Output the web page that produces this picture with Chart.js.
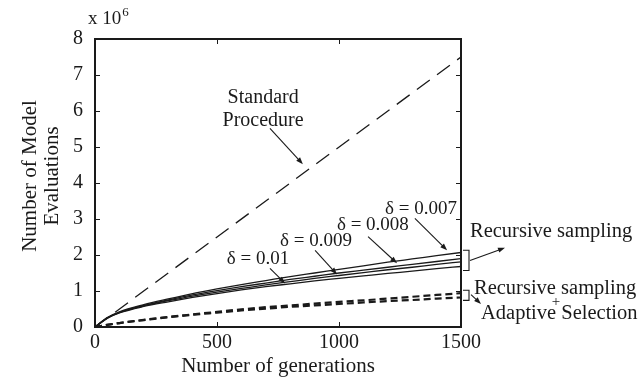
<!DOCTYPE html>
<html>
<head>
<meta charset="utf-8">
<script src="https://cdn.jsdelivr.net/npm/chart.js@4.4.1/dist/chart.umd.min.js"></script>
<style>
  html, body { margin: 0; padding: 0; background: #fff; }
  #wrap { width: 639px; height: 383px; }
</style>
</head>
<body>
<div id="wrap"><canvas id="evals"></canvas></div>
<script>
// generations at which the curves are sampled
const generations = [0, 50, 100, 200, 300, 400, 500, 600, 700, 800, 900, 1000, 1100, 1200, 1300, 1400, 1500];

// model evaluations, in units of 10^6
const standardGens = [0, 1500];
const standardEvals = [0, 7.5];
const recursive007 = [0, 0.26, 0.42, 0.62, 0.78, 0.93, 1.06, 1.18, 1.29, 1.40, 1.50, 1.60, 1.70, 1.80, 1.89, 1.98, 2.07];
const recursive008 = [0, 0.25, 0.41, 0.60, 0.75, 0.89, 1.01, 1.12, 1.22, 1.32, 1.41, 1.50, 1.58, 1.66, 1.74, 1.82, 1.90];
const recursive009 = [0, 0.25, 0.40, 0.59, 0.73, 0.86, 0.97, 1.07, 1.17, 1.26, 1.35, 1.43, 1.51, 1.59, 1.66, 1.74, 1.81];
const recursive010 = [0, 0.24, 0.39, 0.57, 0.70, 0.82, 0.93, 1.03, 1.12, 1.20, 1.28, 1.35, 1.42, 1.49, 1.55, 1.62, 1.68];
const adaptiveHigh = [0, 0.06, 0.11, 0.20, 0.28, 0.35, 0.42, 0.49, 0.55, 0.60, 0.65, 0.70, 0.74, 0.79, 0.84, 0.89, 0.94];
const adaptiveLow = [0, 0.06, 0.11, 0.19, 0.27, 0.34, 0.40, 0.46, 0.51, 0.56, 0.60, 0.64, 0.68, 0.72, 0.75, 0.79, 0.82];

const xTicks = [0, 500, 1000, 1500];
const yTicks = [0, 1, 2, 3, 4, 5, 6, 7, 8];

const INK = '#1a1a1a';
const SERIF = '"Liberation Serif", "DejaVu Serif", serif';

function points(xs, ys) {
    return xs.map((x, i) => ({ x: x, y: ys[i] }));
}

function solid(label, ys) {
    return {
        label: label,
        data: points(generations, ys),
        borderColor: INK,
        borderWidth: 1.3,
        pointRadius: 0,
        cubicInterpolationMode: 'monotone',
        fill: false
    };
}

function dashedThick(label, ys) {
    return {
        label: label,
        data: points(generations, ys),
        borderColor: INK,
        borderWidth: 2.2,
        borderDash: [7, 4],
        pointRadius: 0,
        cubicInterpolationMode: 'monotone',
        fill: false
    };
}

// labels with leader arrows, positions in data units (x: generations, y: 10^6 evals)
const curveNotes = [
    { text: 'δ = 0.01', tx: 668, ty: 1.88, from: [717, 1.63], to: [779, 1.21] },
    { text: 'δ = 0.009', tx: 906, ty: 2.40, from: [902, 2.13], to: [992, 1.46] },
    { text: 'δ = 0.008', tx: 1139, ty: 2.82, from: [1119, 2.51], to: [1238, 1.77] },
    { text: 'δ = 0.007', tx: 1336, ty: 3.29, from: [1311, 3.02], to: [1443, 2.13] }
];

function arrow(ctx, x1, y1, x2, y2) {
    const a = Math.atan2(y2 - y1, x2 - x1);
    const len = 7, w = 2.6;
    ctx.beginPath();
    ctx.moveTo(x1, y1);
    ctx.lineTo(x2 - Math.cos(a) * len * 0.8, y2 - Math.sin(a) * len * 0.8);
    ctx.stroke();
    ctx.beginPath();
    ctx.moveTo(x2, y2);
    ctx.lineTo(x2 - Math.cos(a) * len - Math.sin(a) * w, y2 - Math.sin(a) * len + Math.cos(a) * w);
    ctx.lineTo(x2 - Math.cos(a) * len + Math.sin(a) * w, y2 - Math.sin(a) * len - Math.cos(a) * w);
    ctx.closePath();
    ctx.fill();
}

const framePlugin = {
    id: 'frame',
    afterDraw(chart) {
        const ctx = chart.ctx;
        const area = chart.chartArea;
        const xs = chart.scales.x, ys = chart.scales.y;
        const px = v => xs.getPixelForValue(v);
        const py = v => ys.getPixelForValue(v);

        ctx.save();
        ctx.strokeStyle = INK;
        ctx.fillStyle = INK;

        // box
        ctx.lineWidth = 2;
        ctx.strokeRect(area.left, area.top, area.right - area.left, area.bottom - area.top);

        // inward ticks on all four sides
        ctx.lineWidth = 1;
        const tl = 5;
        ctx.beginPath();
        xTicks.forEach(t => {
            const x = Math.round(px(t)) + 0.5;
            ctx.moveTo(x, area.bottom); ctx.lineTo(x, area.bottom - tl);
            ctx.moveTo(x, area.top); ctx.lineTo(x, area.top + tl);
        });
        yTicks.forEach(t => {
            const y = Math.round(py(t)) + 0.5;
            ctx.moveTo(area.left, y); ctx.lineTo(area.left + tl, y);
            ctx.moveTo(area.right, y); ctx.lineTo(area.right - tl, y);
        });
        ctx.stroke();

        // exponent
        ctx.textBaseline = 'alphabetic';
        ctx.textAlign = 'left';
        ctx.font = '19px ' + SERIF;
        ctx.fillText('x 10', 88, 24);
        const w = ctx.measureText('x 10').width;
        ctx.font = '13px ' + SERIF;
        ctx.fillText('6', 88 + w + 1, 16);

        // axis titles
        ctx.font = '21px ' + SERIF;
        ctx.textAlign = 'center';
        ctx.textBaseline = 'middle';
        ctx.fillText('Number of generations', (area.left + area.right) / 2, 366);
        ctx.save();
        ctx.translate(30, 176);
        ctx.rotate(-Math.PI / 2);
        ctx.fillText('Number of Model', 0, 0);
        ctx.fillText('Evaluations', 0, 22);
        ctx.restore();

        // annotations
        ctx.lineWidth = 1.1;
        ctx.font = '20px ' + SERIF;
        ctx.fillText('Standard', px(689), py(6.38));
        ctx.fillText('Procedure', px(689), py(5.74));
        arrow(ctx, px(717), py(5.52), px(852), py(4.52));

        ctx.font = '19px ' + SERIF;
        curveNotes.forEach(n => {
            ctx.fillText(n.text, px(n.tx), py(n.ty));
            arrow(ctx, px(n.from[0]), py(n.from[1]), px(n.to[0]), py(n.to[1]));
        });

        // brackets grouping the curve families at the right edge
        function bracket(top, bottom) {
            const x0 = area.right + 2, x1 = area.right + 8;
            ctx.beginPath();
            ctx.moveTo(x0, py(top)); ctx.lineTo(x1, py(top));
            ctx.lineTo(x1, py(bottom)); ctx.lineTo(x0, py(bottom));
            ctx.stroke();
        }
        bracket(2.13, 1.57);
        arrow(ctx, area.right + 9, py(1.85), area.right + 44, py(2.2));
        bracket(1.02, 0.74);
        arrow(ctx, area.right + 10, py(0.9), area.right + 20, py(0.64));

        ctx.font = '20.5px ' + SERIF;
        ctx.textAlign = 'left';
        ctx.fillText('Recursive sampling', area.right + 9, py(2.65));
        ctx.fillText('Recursive sampling', area.right + 13, py(1.07));
        ctx.fillText('Adaptive Selection', area.right + 20, py(0.38));
        ctx.textAlign = 'center';
        ctx.font = '15px ' + SERIF;
        ctx.fillText('+', area.right + 95, py(0.68));
        ctx.restore();
    }
};

new Chart(document.getElementById('evals'), {
    type: 'line',
    data: {
        datasets: [
            {
                label: 'Standard Procedure',
                data: points(standardGens, standardEvals),
                borderColor: INK,
                borderWidth: 1.3,
                borderDash: [16, 9],
                pointRadius: 0,
                fill: false
            },
            solid('δ = 0.007', recursive007),
            solid('δ = 0.008', recursive008),
            solid('δ = 0.009', recursive009),
            solid('δ = 0.01', recursive010),
            dashedThick('Adaptive 1', adaptiveHigh),
            dashedThick('Adaptive 2', adaptiveLow)
        ]
    },
    options: {
        responsive: true,
        maintainAspectRatio: false,
        animation: false,
        layout: { padding: { left: 0, top: 39, right: 178, bottom: 0 } },
        plugins: {
            legend: { display: false },
            tooltip: { enabled: false }
        },
        scales: {
            x: {
                type: 'linear',
                min: 0,
                max: 1500,
                grid: { display: false, drawTicks: false, tickLength: 0 },
                border: { display: false },
                ticks: {
                    stepSize: 500,
                    padding: 4,
                    color: INK,
                    maxRotation: 0,
                    font: { family: SERIF, size: 20 },
                    callback: v => String(v)
                },
                afterFit: axis => { axis.height = 56; }
            },
            y: {
                min: 0,
                max: 8,
                grid: { display: false, drawTicks: false, tickLength: 0 },
                border: { display: false },
                ticks: {
                    stepSize: 1,
                    padding: 12,
                    color: INK,
                    font: { family: SERIF, size: 20 },
                    callback: v => String(v)
                },
                afterFit: axis => { axis.width = 95; }
            }
        }
    },
    plugins: [framePlugin]
});
</script>
</body>
</html>
